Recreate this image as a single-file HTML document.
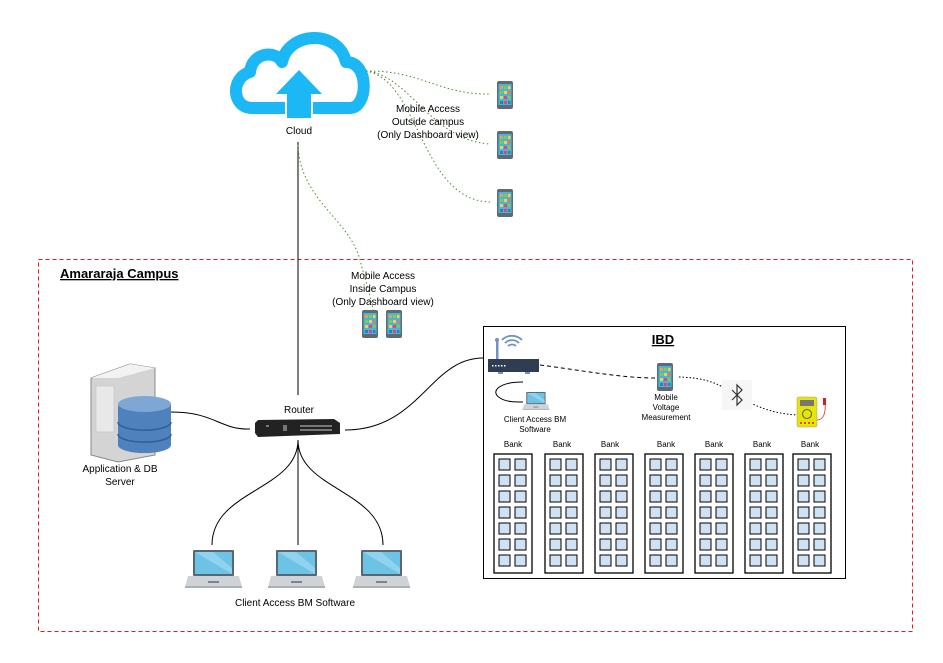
<!DOCTYPE html>
<html><head><meta charset="utf-8"><style>
html,body{margin:0;padding:0;background:#fff;}
svg{display:block;font-family:"Liberation Sans",sans-serif;}
</style></head><body>
<svg width="943" height="663" viewBox="0 0 943 663" xmlns="http://www.w3.org/2000/svg">
<defs>
<g id="phone">
<rect x="0" y="0" width="16" height="28" rx="2" fill="#5f6b73"/>
<rect x="1.5" y="3" width="13" height="21" fill="#49b5d8"/>
<rect x="3" y="5" width="3" height="3" fill="#f2a03d"/><rect x="7" y="5" width="3" height="3" fill="#8ec63f"/><rect x="11" y="5" width="2.5" height="3" fill="#f7d04a"/>
<rect x="3" y="10" width="3" height="3" fill="#8ec63f"/><rect x="7" y="10" width="3" height="3" fill="#f7d04a"/><rect x="11" y="10" width="2.5" height="3" fill="#e8774a"/>
<rect x="3" y="15" width="3" height="3" fill="#f7d04a"/><rect x="7" y="15" width="3" height="3" fill="#e0457b"/><rect x="11" y="15" width="2.5" height="3" fill="#8ec63f"/>
<rect x="3" y="20" width="3" height="3" fill="#2d7fc1"/><rect x="7" y="20" width="3" height="3" fill="#e0457b"/><rect x="11" y="20" width="2.5" height="3" fill="#2d7fc1"/>
</g>
<g id="laptop">
<rect x="7" y="0" width="41" height="26" rx="1" fill="#5b6770"/>
<rect x="9" y="2" width="37" height="22" fill="#6cc3e6"/>
<path d="M9 2 L27 2 L46 18 L46 24 Z" fill="#8fd3ee"/>
<path d="M2 26 L53 26 L56 37 L-1 37 Z" fill="#cfd3d6"/>
<rect x="-1" y="36" width="57" height="2" fill="#aab0b4"/>
<rect x="22" y="31" width="11" height="2" fill="#7d868c"/>
</g>
<g id="bank">
<rect x="0" y="0" width="38" height="119" fill="#fff" stroke="#000" stroke-width="1.3"/>
<g fill="#cfe2f3" stroke="#000" stroke-width="1">
<rect x="5" y="5" width="11" height="11"/><rect x="21" y="5" width="11" height="11"/>
<rect x="5" y="21" width="11" height="11"/><rect x="21" y="21" width="11" height="11"/>
<rect x="5" y="37" width="11" height="11"/><rect x="21" y="37" width="11" height="11"/>
<rect x="5" y="53" width="11" height="11"/><rect x="21" y="53" width="11" height="11"/>
<rect x="5" y="69" width="11" height="11"/><rect x="21" y="69" width="11" height="11"/>
<rect x="5" y="85" width="11" height="11"/><rect x="21" y="85" width="11" height="11"/>
<rect x="5" y="101" width="11" height="11"/><rect x="21" y="101" width="11" height="11"/>
</g>
</g>
</defs>

<rect x="38.5" y="259.5" width="874" height="372" fill="none" stroke="#e41a1c" stroke-width="1" stroke-dasharray="4,3"/>
<text x="60" y="278" font-size="13" font-weight="bold" text-decoration="underline">Amararaja Campus</text>

<path d="M285 108 L252 108 C232 108 230 78 250 72 C252 52 276 50 282 62 C288 32 338 28 346 62 C370 62 368 108 350 108 L313 108" fill="none" stroke="#1cb7f5" stroke-width="12" stroke-linejoin="round"/>
<path d="M299 70 L322 94 L311 94 L311 118 L287 118 L287 94 L276 94 Z" fill="#1cb7f5"/>
<text x="299" y="134" font-size="10" text-anchor="middle">Cloud</text>

<line x1="298" y1="142" x2="298" y2="395" stroke="#000" stroke-width="1"/>
<g fill="none" stroke="#4a8a2a" stroke-width="1" stroke-dasharray="1.5,2.5">
<path d="M366 71 C420 70 440 95 490 94"/>
<path d="M366 71 C410 75 430 140 490 144"/>
<path d="M366 71 C420 80 420 200 490 202"/>
<path d="M298 145 C300 200 350 220 360 260 C365 280 372 300 373 310"/>
</g>
<g font-size="10" text-anchor="middle">
<text x="428" y="112">Mobile Access</text>
<text x="428" y="125">Outside campus</text>
<text x="428" y="138">(Only Dashboard view)</text>
<text x="383" y="279">Mobile Access</text>
<text x="383" y="292">Inside Campus</text>
<text x="383" y="305">(Only Dashboard view)</text>
</g>
<use href="#phone" x="497" y="81"/>
<use href="#phone" x="497" y="131"/>
<use href="#phone" x="497" y="189"/>
<use href="#phone" x="362" y="310"/>
<use href="#phone" x="386" y="310"/>

<path d="M91 378 L130 364 L155 368 L155 455 L118 462 L91 455 Z" fill="#d4d4d4" stroke="#888" stroke-width="1"/>
<path d="M91 378 L130 364 L155 368 L118 378 Z" fill="#f2f2f2"/>
<rect x="96" y="386" width="18" height="46" fill="#e8e8e8" stroke="#bbb" stroke-width="0.5"/>
<path d="M118 404 L118 445 A26 8 0 0 0 171 445 L171 404 Z" fill="#4f81bd"/>
<path d="M118 422 A26 8 0 0 0 171 422" fill="none" stroke="#2f5f9a" stroke-width="1.5"/>
<path d="M118 434 A26 8 0 0 0 171 434" fill="none" stroke="#2f5f9a" stroke-width="1.5"/>
<ellipse cx="144.5" cy="404" rx="26.5" ry="8" fill="#7fa7d6"/>
<text x="120" y="472" font-size="10" text-anchor="middle">Application &amp; DB</text>
<text x="120" y="485" font-size="10" text-anchor="middle">Server</text>

<path d="M171 412 C215 412 220 430 250 429" fill="none" stroke="#000" stroke-width="1"/>
<text x="299" y="413" font-size="10" text-anchor="middle">Router</text>
<path d="M258 420 L334 419 L340 423 L340 434 L258 437 L255 433 L255 423 Z" fill="#222"/>
<g fill="#777"><rect x="300" y="425" width="32" height="2"/><rect x="300" y="429" width="32" height="2"/><rect x="283" y="425" width="4" height="6"/><rect x="266" y="425" width="3" height="2"/></g>
<path d="M345 430 C420 430 430 358 483 358" fill="none" stroke="#000" stroke-width="1"/>

<g fill="none" stroke="#000" stroke-width="1">
<path d="M298 440 C298 490 212 490 212 545"/>
<line x1="298" y1="440" x2="298" y2="545"/>
<path d="M298 440 C298 490 383 490 383 545"/>
</g>
<use href="#laptop" x="186" y="550"/>
<use href="#laptop" x="269" y="550"/>
<use href="#laptop" x="354" y="550"/>
<text x="295" y="606" font-size="10" text-anchor="middle">Client Access BM Software</text>

<rect x="483.5" y="326.5" width="362" height="252" fill="none" stroke="#000" stroke-width="1"/>
<text x="663" y="344" font-size="13" font-weight="bold" text-anchor="middle" text-decoration="underline">IBD</text>

<rect x="496" y="339" width="2.5" height="20" fill="#6f93c2"/>
<circle cx="497" cy="340" r="2" fill="#6f93c2"/>
<path d="M508 346 A6 6 0 0 1 516 346 M505 343 A10 10 0 0 1 519 343 M502 340 A14 14 0 0 1 522 340" fill="none" stroke="#6f93c2" stroke-width="1.8"/>
<rect x="488" y="359" width="51" height="13" fill="#2f3d52"/>
<g fill="#fff"><rect x="492" y="365" width="1.5" height="1.5"/><rect x="495" y="365" width="1.5" height="1.5"/><rect x="498" y="365" width="1.5" height="1.5"/><rect x="501" y="365" width="1.5" height="1.5"/><rect x="504" y="365" width="1.5" height="1.5"/></g>
<rect x="498" y="372" width="5" height="2" fill="#6f93c2"/><rect x="525" y="372" width="5" height="2" fill="#6f93c2"/>
<path d="M523 382 C498 382 490 392 500 398 C506 402 515 402 523 402" fill="none" stroke="#000" stroke-width="1"/>
<g transform="translate(523,392) scale(0.47)"><use href="#laptop"/></g>
<text x="535" y="422" font-size="8" text-anchor="middle">Client Access BM</text>
<text x="535" y="432" font-size="8" text-anchor="middle">Software</text>

<path d="M540 365 C580 370 620 378 655 378" fill="none" stroke="#000" stroke-width="1" stroke-dasharray="4,3"/>
<use href="#phone" x="657" y="363"/>
<text x="666" y="400" font-size="8" text-anchor="middle">Mobile</text>
<text x="666" y="410" font-size="8" text-anchor="middle">Voltage</text>
<text x="666" y="420" font-size="8" text-anchor="middle">Measurement</text>
<path d="M679 377 C710 378 720 385 736 395 C760 410 780 414 797 415" fill="none" stroke="#000" stroke-width="1" stroke-dasharray="1.5,2"/>
<rect x="722" y="380" width="30" height="30" fill="#f6f6f6"/>
<path d="M732 390 L742 400 L737 405 L737 385 L742 390 L732 400" fill="none" stroke="#333" stroke-width="1.2"/>
<rect x="797" y="397" width="20" height="30" rx="2" fill="#e6e600" stroke="#999" stroke-width="0.5"/>
<rect x="800" y="400" width="14" height="6" fill="#777"/>
<circle cx="807" cy="414" r="4.5" fill="#e6e600" stroke="#555" stroke-width="1"/>
<g fill="#d22"><circle cx="801" cy="423" r="1"/><circle cx="805" cy="423" r="1"/><circle cx="809" cy="423" r="1"/><circle cx="813" cy="423" r="1"/></g>
<path d="M817 420 C824 420 826 412 825 402" fill="none" stroke="#d55" stroke-width="1"/>
<rect x="823" y="398" width="3" height="7" fill="#c22"/>

<g font-size="8" text-anchor="middle">
<text x="513" y="447">Bank</text><text x="562" y="447">Bank</text><text x="610" y="447">Bank</text><text x="666" y="447">Bank</text><text x="714" y="447">Bank</text><text x="762" y="447">Bank</text><text x="810" y="447">Bank</text>
</g>
<use href="#bank" x="494" y="454"/>
<use href="#bank" x="545" y="454"/>
<use href="#bank" x="595" y="454"/>
<use href="#bank" x="645" y="454"/>
<use href="#bank" x="695" y="454"/>
<use href="#bank" x="745" y="454"/>
<use href="#bank" x="793" y="454"/>
</svg>
</body></html>
